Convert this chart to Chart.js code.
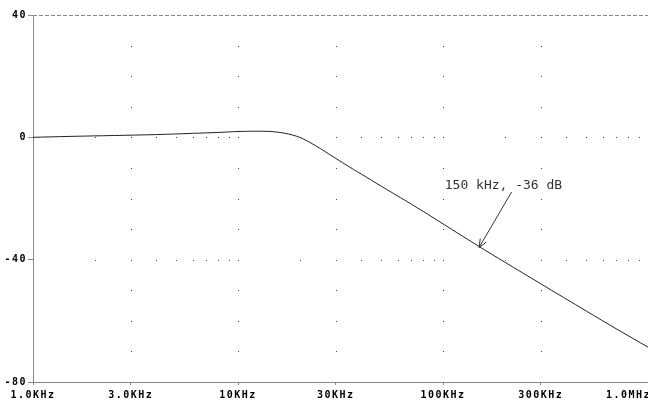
<!DOCTYPE html>
<html>
<head>
<meta charset="utf-8">
<script src="https://cdn.jsdelivr.net/npm/chart.js@4"></script>
<style>
    html, body { margin: 0; padding: 0; background: #fff; }
    canvas { display: block; }
</style>
</head>
<body>
<canvas id="grafico" width="648" height="401"></canvas>
<script>
// frequência (Hz) e ganho (dB)
const frequencias = [1000, 1500, 2500, 4000, 6000, 8000, 10000, 12000, 14500, 17000, 20000, 24000,
    30000, 35000, 42000, 53000, 62000, 80000, 100000, 150000, 200000, 300000, 500000, 700000, 1000000];
const ganhos = [0, 0.3, 0.6, 0.9, 1.3, 1.6, 1.9, 2.0, 1.9, 1.3, 0.0, -2.8,
    -6.9, -9.7, -12.9, -17.0, -19.7, -24.2, -28.3, -35.7, -40.8, -47.9, -56.8, -62.6, -68.6];

const ticksX = [1000, 3000, 10000, 30000, 100000, 300000, 1000000];
const rotulosX = ['1.0KHz', '3.0KHz', '10KHz', '30KHz', '100KHz', '300KHz', '1.0MHz'];
const ticksY = [40, 0, -40, -80];

// anotação: texto e seta em coordenadas do gráfico
const anotacaoTexto = '150 kHz, -36 dB';
const anotacaoPosTexto = { x: 102000, y: -15.7 };
const anotacaoInicioSeta = { x: 216000, y: -17.9 };
const anotacaoPonta = { x: 150000, y: -36 };

const pontos = frequencias.map((f, i) => ({ x: f, y: ganhos[i] }));

const fonteRotulo = 'bold 10px "DejaVu Sans Mono", monospace';

const pluginPSpice = {
    id: 'pspice',
    beforeDraw(chart) {
        chart.ctx.letterSpacing = '1.5px';
    },
    beforeDatasetsDraw(chart) {
        const ctx = chart.ctx;
        const area = chart.chartArea;
        const sx = chart.scales.x;
        const sy = chart.scales.y;
        ctx.save();

        // borda superior tracejada
        ctx.strokeStyle = '#888';
        ctx.lineWidth = 1;
        ctx.setLineDash([4, 2]);
        ctx.beginPath();
        ctx.moveTo(area.left, Math.round(area.top) + 0.5);
        ctx.lineTo(area.right, Math.round(area.top) + 0.5);
        ctx.stroke();
        ctx.setLineDash([]);

        // grade pontilhada
        ctx.fillStyle = '#444';
        ticksX.slice(1, -1).forEach(f => {
            const px = Math.round(sx.getPixelForValue(f));
            for (let db = 30; db > -80; db -= 10) {
                ctx.fillRect(px, Math.round(sy.getPixelForValue(db)), 1, 1);
            }
        });
        ticksY.slice(1, -1).forEach(db => {
            const py = Math.round(sy.getPixelForValue(db));
            for (let dec = 1000; dec < 1000000; dec *= 10) {
                for (let m = 1; m <= 9; m++) {
                    const f = dec * m;
                    if (f === 1000) continue;
                    ctx.fillRect(Math.round(sx.getPixelForValue(f)), py, 1, 1);
                }
            }
        });
        ctx.restore();
    },
    afterDraw(chart) {
        const ctx = chart.ctx;
        const sx = chart.scales.x;
        const sy = chart.scales.y;
        const largura = chart.width;
        ctx.save();

        // rótulos do eixo x (presos às bordas do canvas)
        ctx.letterSpacing = '1.5px';
        ctx.font = fonteRotulo;
        ctx.fillStyle = '#000';
        ctx.textAlign = 'left';
        ctx.textBaseline = 'alphabetic';
        ticksX.forEach((f, i) => {
            const w = ctx.measureText(rotulosX[i]).width;
            let x = sx.getPixelForValue(f) - w / 2;
            if (x < 2) x = 2;
            if (x + w > largura + 3) x = largura + 3 - w;
            ctx.fillText(rotulosX[i], x, 398);
        });

        // anotação
        ctx.letterSpacing = '0px';
        ctx.fillStyle = '#333';
        ctx.font = '13px "DejaVu Sans Mono"';
        ctx.textBaseline = 'middle';
        ctx.fillText(anotacaoTexto, sx.getPixelForValue(anotacaoPosTexto.x), sy.getPixelForValue(anotacaoPosTexto.y));

        const x0 = sx.getPixelForValue(anotacaoInicioSeta.x);
        const y0 = sy.getPixelForValue(anotacaoInicioSeta.y);
        const x1 = sx.getPixelForValue(anotacaoPonta.x);
        const y1 = sy.getPixelForValue(anotacaoPonta.y);
        const ang = Math.atan2(y1 - y0, x1 - x0);
        const tam = 9;
        ctx.strokeStyle = '#333';
        ctx.lineWidth = 1;
        ctx.beginPath();
        ctx.moveTo(x0, y0);
        ctx.lineTo(x1, y1);
        ctx.moveTo(x1 - tam * Math.cos(ang - 0.4), y1 - tam * Math.sin(ang - 0.4));
        ctx.lineTo(x1, y1);
        ctx.lineTo(x1 - tam * Math.cos(ang + 0.4), y1 - tam * Math.sin(ang + 0.4));
        ctx.stroke();
        ctx.restore();
    }
};

const fonteEixo = { family: '"DejaVu Sans Mono", monospace', size: 10, weight: 'bold' };

new Chart(document.getElementById('grafico').getContext('2d'), {
    type: 'line',
    data: {
        datasets: [{
            data: pontos,
            borderColor: '#222',
            borderWidth: 1,
            pointRadius: 0,
            tension: 0.3,
            fill: false
        }]
    },
    options: {
        responsive: false,
        animation: false,
        events: [],
        layout: { padding: { top: 15, right: 0, left: 0, bottom: 0 } },
        plugins: {
            legend: { display: false },
            tooltip: { enabled: false }
        },
        scales: {
            x: {
                type: 'logarithmic',
                min: 1000,
                max: 1000000,
                afterBuildTicks: function (scale) {
                    scale.ticks = ticksX.map(v => ({ value: v }));
                },
                afterFit: function (scale) {
                    scale.height = 19;
                    scale.paddingLeft = 0;
                    scale.paddingRight = 0;
                },
                ticks: {
                    display: false,
                    autoSkip: false,
                    maxRotation: 0
                },
                grid: {
                    drawOnChartArea: false,
                    drawTicks: true,
                    tickLength: 3,
                    color: '#888'
                },
                border: { display: true, color: '#888', dash: [4, 2], width: 1 }
            },
            y: {
                min: -80,
                max: 40,
                afterBuildTicks: function (scale) {
                    scale.ticks = ticksY.map(v => ({ value: v }));
                },
                afterFit: function (scale) {
                    scale.width = 33;
                    scale.paddingTop = 0;
                    scale.paddingBottom = 0;
                },
                ticks: {
                    padding: 1,
                    color: '#000',
                    font: fonteEixo
                },
                grid: {
                    drawOnChartArea: false,
                    drawTicks: true,
                    tickLength: 5,
                    color: '#888'
                },
                border: { display: true, color: '#888', dash: [4, 2], width: 1 }
            }
        }
    },
    plugins: [pluginPSpice]
});
</script>
</body>
</html>
